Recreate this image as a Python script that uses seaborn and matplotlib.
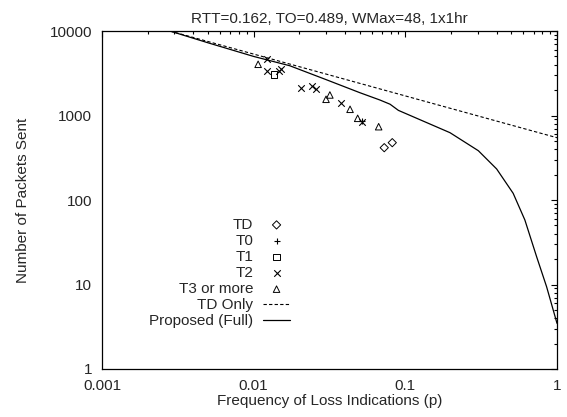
import matplotlib
matplotlib.use("Agg")
import matplotlib.pyplot as plt
import matplotlib.ticker as mticker
import seaborn as sns

# ---- data ----
td_p = [0.0726, 0.082]
td_n = [416, 477]

t0_p = [0.0515]
t0_n = [860]

t1_p = [0.0136]
t1_n = [3073]

t2_p = [0.0122, 0.0123, 0.0148, 0.0151, 0.0205, 0.0243, 0.0256, 0.0376, 0.0515]
t2_n = [4624, 3388, 3388, 3550, 2133, 2253, 2042, 1393, 845]

t3_p = [0.0107, 0.0318, 0.0300, 0.0432, 0.0485, 0.0667]
t3_n = [4036, 1750, 1555, 1184, 926, 737]

tdonly_p = [0.0028, 0.01, 0.1, 1.0]
tdonly_n = [10000, 5330, 1705, 546]

full_p = [0.0028, 0.005, 0.01, 0.0173, 0.03, 0.0502, 0.068, 0.0793, 0.09,
          0.197, 0.303, 0.40, 0.514, 0.614, 0.734, 0.854, 1.0]
full_n = [10000, 7250, 5000, 3880, 2660, 1860, 1525, 1360, 1150,
          626, 383, 233, 120, 58, 21.3, 9.4, 3.47]

x_ticks = [0.001, 0.01, 0.1, 1]
x_ticklabels = ["0.001", "0.01", "0.1", "1"]
y_ticks = [1, 10, 100, 1000, 10000]
y_ticklabels = ["1", "10", "100", "1000", "10000"]

title = "RTT=0.162, TO=0.489, WMax=48, 1x1hr"
xlabel = "Frequency of Loss Indications (p)"
ylabel = "Number of Packets Sent"

# ---- style ----
sns.set_style("white")
plt.rcParams["font.family"] = ["Liberation Sans", "DejaVu Sans"]
fs = 11
plt.rcParams["font.size"] = fs

fig = plt.figure(figsize=(5.67, 4.17), dpi=100)
ax = fig.add_axes([102 / 567, 1 - 369 / 417, 455 / 567, 338 / 417])

ms = 22
sns.scatterplot(x=td_p, y=td_n, marker="D", s=ms * 0.8, color="none",
                edgecolor="black", linewidth=0.7, label="TD", ax=ax)
sns.scatterplot(x=t0_p, y=t0_n, marker="+", s=ms, color="black",
                linewidth=0.8, label="T0", ax=ax)
sns.scatterplot(x=t1_p, y=t1_n, marker="s", s=ms, color="none",
                edgecolor="black", linewidth=0.7, label="T1", ax=ax)
sns.scatterplot(x=t2_p, y=t2_n, marker="x", s=ms, color="black",
                linewidth=0.8, label="T2", ax=ax)
sns.scatterplot(x=t3_p, y=t3_n, marker="^", s=ms, color="none",
                edgecolor="black", linewidth=0.7, label="T3 or more", ax=ax)

sns.lineplot(x=tdonly_p, y=tdonly_n, color="black", linewidth=0.8,
             linestyle=(0, (3, 2)), estimator=None, sort=False,
             label="TD Only", ax=ax)
sns.lineplot(x=full_p, y=full_n, color="black", linewidth=0.9,
             estimator=None, sort=False, label="Proposed (Full)", ax=ax)

ax.set_xscale("log")
ax.set_yscale("log")
ax.set_xlim(0.001, 1)
ax.set_ylim(1, 10000)

ax.xaxis.set_major_locator(mticker.FixedLocator(x_ticks))
ax.xaxis.set_major_formatter(mticker.FixedFormatter(x_ticklabels))
ax.yaxis.set_major_locator(mticker.FixedLocator(y_ticks))
ax.yaxis.set_major_formatter(mticker.FixedFormatter(y_ticklabels))
ax.xaxis.set_minor_locator(mticker.LogLocator(base=10, subs=range(2, 10), numticks=20))
ax.yaxis.set_minor_locator(mticker.LogLocator(base=10, subs=range(2, 10), numticks=20))
ax.xaxis.set_minor_formatter(mticker.NullFormatter())
ax.yaxis.set_minor_formatter(mticker.NullFormatter())

ax.tick_params(which="both", direction="in", top=True, right=True,
               color="black", width=0.8)
ax.tick_params(which="major", length=4, pad=7, labelsize=fs)
ax.tick_params(which="minor", length=2.2)

for sp in ax.spines.values():
    sp.set_color("black")
    sp.set_linewidth(0.9)

ax.set_title(title, fontsize=fs, pad=6)
ax.set_xlabel(xlabel, fontsize=fs, labelpad=1)
ax.set_ylabel(ylabel, fontsize=fs, labelpad=14)

leg = ax.legend(loc="upper right", bbox_to_anchor=(0.413, 0.447),
                frameon=False, markerfirst=False, alignment="right",
                handlelength=1.75, handletextpad=0.65, labelspacing=0.135,
                borderpad=0, borderaxespad=0, fontsize=fs, scatterpoints=1)

fig.savefig("out.png", dpi=100)
